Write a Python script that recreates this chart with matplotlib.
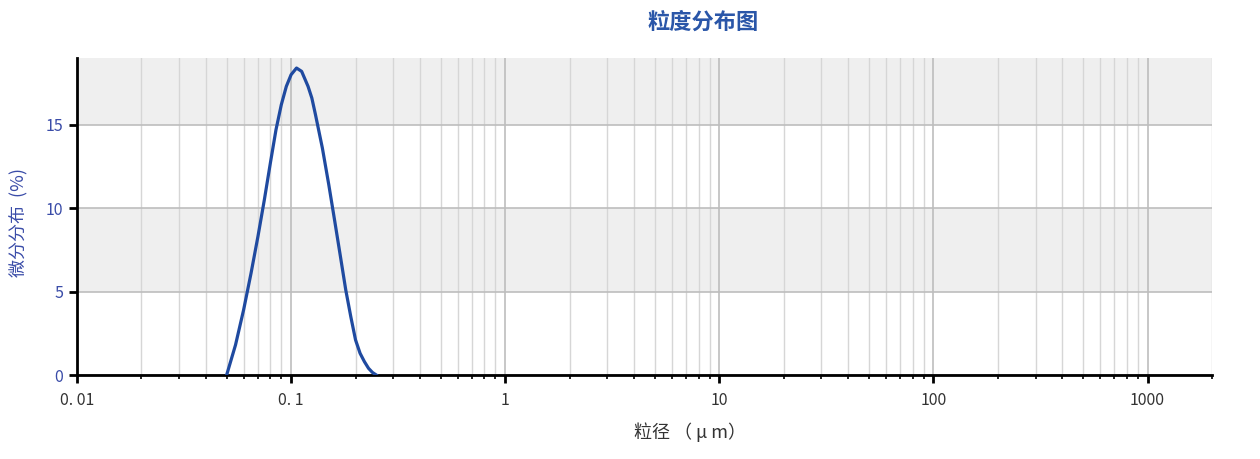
import matplotlib.pyplot as plt
from matplotlib.ticker import FixedLocator, LogLocator, NullFormatter

plt.rcParams['font.family'] = ['Noto Sans CJK SC', 'DejaVu Sans']

# particle size (um) and differential distribution (%)
size_um = [0.050, 0.055, 0.060, 0.065, 0.070, 0.075, 0.080, 0.085, 0.090, 0.095,
           0.100, 0.106, 0.112, 0.120, 0.125, 0.130, 0.140, 0.150, 0.160, 0.170,
           0.180, 0.190, 0.200, 0.210, 0.220, 0.230, 0.240, 0.250]
diff_pct = [0.0, 1.8, 3.9, 6.1, 8.3, 10.5, 12.7, 14.7, 16.2, 17.3,
            18.0, 18.4, 18.2, 17.3, 16.6, 15.6, 13.6, 11.4, 9.2, 7.1,
            5.1, 3.5, 2.1, 1.3, 0.8, 0.4, 0.15, 0.0]

x_ticks = [0.01, 0.1, 1, 10, 100, 1000]
x_tick_labels = ['0. 01', '0. 1', '1', '10', '100', '1000']
y_ticks = [0, 5, 10, 15]
bands = [(5, 10), (15, 19)]

fig = plt.figure(figsize=(12.6, 4.59), dpi=100)
ax = fig.add_axes([0.0611, 0.183, 0.9008, 0.6906])

ax.set_xscale('log')
ax.set_xlim(0.01, 2000)
ax.set_ylim(0, 19)

for lo, hi in bands:
    ax.axhspan(lo, hi, color='#efefef', zorder=0, lw=0)

ax.xaxis.set_major_locator(FixedLocator(x_ticks))
ax.xaxis.set_minor_locator(LogLocator(base=10, subs=range(2, 10), numticks=20))
ax.xaxis.set_minor_formatter(NullFormatter())
ax.set_xticks(x_ticks)
ax.set_xticklabels(x_tick_labels)
ax.set_yticks(y_ticks)

ax.grid(True, which='major', axis='both', color='#bdbdbd', lw=1.2, zorder=1)
ax.grid(True, which='minor', axis='x', color='#d6d6d6', lw=1.0, zorder=1)
ax.set_axisbelow(True)

ax.plot(size_um, diff_pct, color='#1f4aa0', lw=2.3, zorder=3,
        solid_joinstyle='round')

for side in ['top', 'right']:
    ax.spines[side].set_visible(False)
for side in ['left', 'bottom']:
    ax.spines[side].set_linewidth(2)
    ax.spines[side].set_color('black')

ax.tick_params(axis='both', which='major', direction='out', length=6, width=2)
ax.tick_params(axis='x', which='minor', direction='out', length=3, width=1.2)
ax.tick_params(axis='x', labelsize=11.5, labelcolor='#333333', pad=6)
ax.tick_params(axis='y', labelsize=11.5, labelcolor='#3a4ca8', pad=4)

ax.set_xlabel('粒径 （ μ m）', fontsize=13, color='#333333')
ax.xaxis.set_label_coords(0.54, -0.15)
ax.set_ylabel('微分分布  (%)', fontsize=13, color='#3a4ca8')
ax.yaxis.set_label_coords(-0.043, 0.48)

fig.text(0.558, 0.952, '粒度分布图', ha='center', va='center', fontsize=16,
         fontweight='bold', color='#2a56a8')

fig.savefig('out.png', dpi=100)
